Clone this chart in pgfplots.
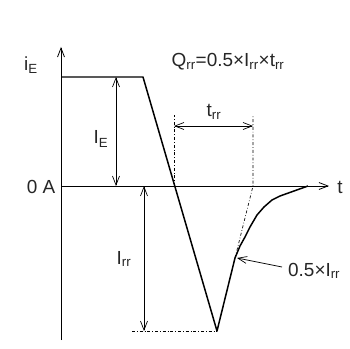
\documentclass[border=0pt]{standalone}
\usepackage{fontspec}
\setmainfont{Liberation Sans}
\usepackage{pgfplots}
\pgfplotsset{compat=1.18}
\usetikzlibrary{arrows.meta}

\newcommand{\sub}[1]{\textsubscript{#1}}

\begin{document}
\begin{tikzpicture}[
    lbl/.style={font=\fontsize{19}{22}\selectfont, inner sep=0pt, text=black!85},
    barb/.style={-{Straight Barb[length=9pt,width=7pt]}},
    dbarb/.style={{Straight Barb[length=9pt,width=7pt]}-{Straight Barb[length=9pt,width=7pt]}},
]
\begin{axis}[
    width=350bp, height=349bp, scale only axis,
    xmin=0, xmax=350, ymin=0, ymax=349, y dir=reverse,
    hide axis, clip=false,
]
\path (rel axis cs:0,0) rectangle (rel axis cs:1,1);

% axes
\addplot[black, line width=0.8pt, barb] coordinates {(61,340) (61,47)};
\addplot[black, line width=0.8pt, barb] coordinates {(61,186) (329,186)};

% current waveform
\addplot[black, line width=1.5pt, line join=round] coordinates {
    (61,77) (143,77) (217,331) (235,258)
    (240,246) (245,237) (250,227) (257,215) (264,207)
    (272,200) (280,196) (294,191) (308,186)
};

% dash-dot construction lines
\addplot[black, line width=0.7pt, dash dot] coordinates {(235,258) (253,186) (253,115)};
\addplot[black, line width=0.7pt, dash dot] coordinates {(174,186) (174,115)};
\addplot[black, line width=0.7pt, dash dot] coordinates {(132,331) (217,331)};

% dimension arrows
\addplot[black, line width=0.7pt, dbarb] coordinates {(116,77) (116,186)};
\addplot[black, line width=0.7pt, dbarb] coordinates {(144,186) (144,331)};
\addplot[black, line width=0.7pt, dbarb] coordinates {(174,126) (253,126)};
\addplot[black, line width=0.7pt, barb] coordinates {(282,267) (237,258)};

% labels
\node[lbl] at (axis cs:31,65) {i\sub{E}};
\node[lbl] at (axis cs:41,187) {0 A};
\node[lbl] at (axis cs:340,187) {t};
\node[lbl] at (axis cs:101,139) {I\sub{E}};
\node[lbl] at (axis cs:124,259) {I\sub{rr}};
\node[lbl] at (axis cs:214,112) {t\sub{rr}};
\node[lbl] at (axis cs:228,62) {Q\sub{rr}=0.5×I\sub{rr}×t\sub{rr}};
\node[lbl, anchor=west] at (axis cs:288,271) {0.5×I\sub{rr}};
\end{axis}
\end{tikzpicture}
\end{document}
